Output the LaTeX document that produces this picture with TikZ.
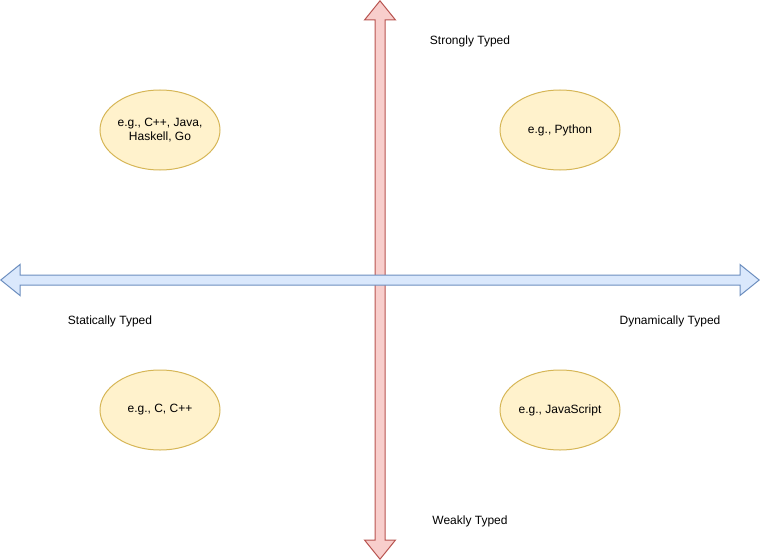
\documentclass[tikz,border=0pt]{standalone}
\usepackage{fontspec}
\setmainfont{Liberation Sans}
\usetikzlibrary{shapes.geometric}
\definecolor{redfill}{HTML}{F8CECC}
\definecolor{redline}{HTML}{B85450}
\definecolor{bluefill}{HTML}{DAE8FC}
\definecolor{blueline}{HTML}{6C8EBF}
\definecolor{yelfill}{HTML}{FFF2CC}
\definecolor{yelline}{HTML}{D6B656}
\begin{document}
\begin{tikzpicture}[x=0.75pt,y=-0.75pt,
  lang/.style={ellipse, draw=yelline, fill=yelfill, line width=0.75pt,
    minimum width=90pt, minimum height=60pt, inner sep=0pt, align=center,
    font=\fontsize{9pt}{10.5pt}\selectfont},
  axislabel/.style={font=\fontsize{9pt}{10.5pt}\selectfont, inner sep=0pt},
  vaxis/.style={draw=redline, fill=redfill, line width=0.75pt, line join=miter},
  haxis/.style={draw=blueline, fill=bluefill, line width=0.75pt, line join=miter}]
\useasboundingbox (0,0) rectangle (760,560);
% vertical axis
\draw[vaxis] (380,0.8) -- (395.5,20) -- (385,20) -- (385,540) -- (395.5,540)
  -- (380,559.2) -- (364.5,540) -- (375,540) -- (375,20) -- (364.5,20) -- cycle;
% horizontal axis
\draw[haxis] (0.8,280) -- (20,264.5) -- (20,275) -- (740,275) -- (740,264.5)
  -- (759.2,280) -- (740,295.5) -- (740,285) -- (20,285) -- (20,295.5) -- cycle;
% ellipses
\node[lang] (sl) at (160,130) {e.g., C++, Java,\\Haskell, Go};
\node[lang] (dl) at (560,130) {e.g., Python};
\node[lang] (sw) at (160,410) {e.g., C, C++};
\node[lang] (dw) at (560,410) {e.g., JavaScript};
% labels
\node[axislabel] (strong) at (470,41) {Strongly Typed};
\node[axislabel] (weak) at (470,521) {Weakly Typed};
\node[axislabel] (static) at (110,321) {Statically Typed};
\node[axislabel] (dynamic) at (670,321) {Dynamically Typed};
\end{tikzpicture}
\end{document}
